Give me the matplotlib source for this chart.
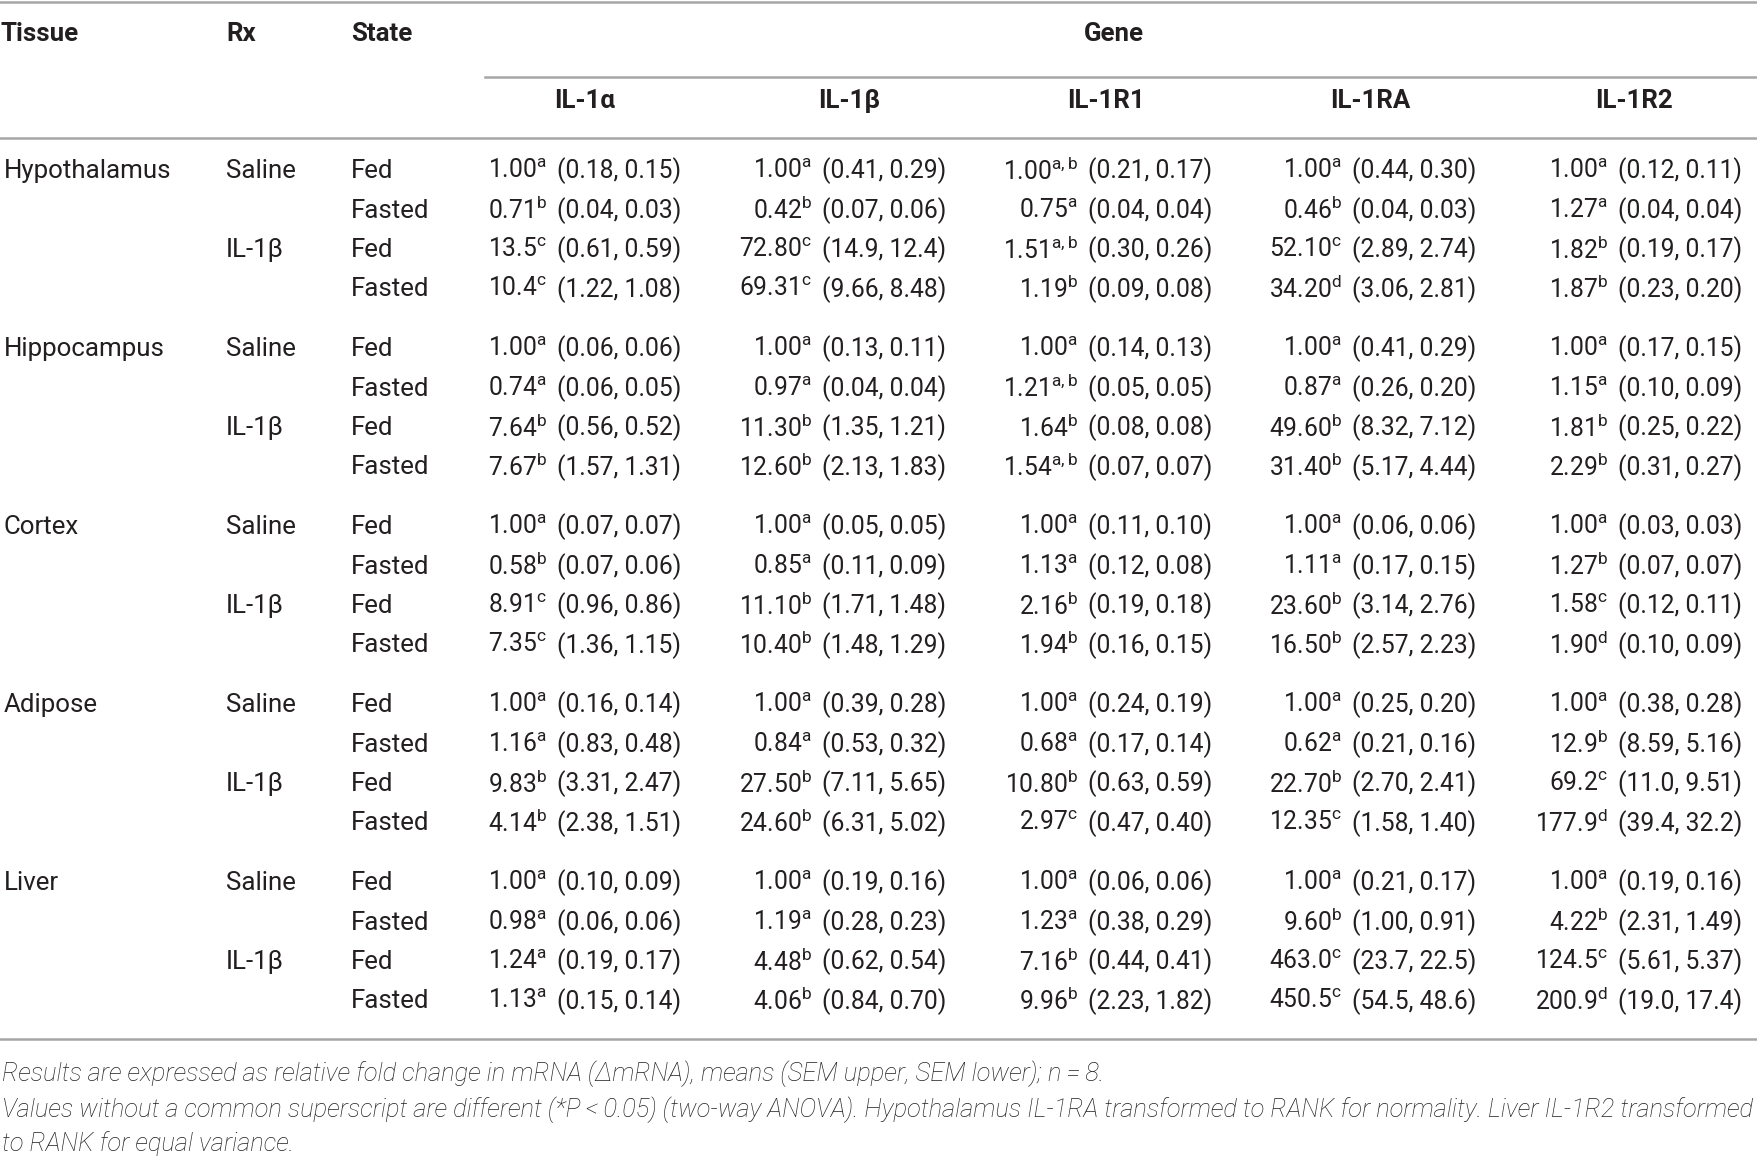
import matplotlib
matplotlib.use("Agg")
import matplotlib.pyplot as plt

plt.rcParams['font.family'] = ['Roboto', 'DejaVu Sans']

# table content
tissues = ['Hypothalamus', 'Hippocampus', 'Cortex', 'Adipose', 'Liver']
treatments = ['Saline', 'IL-1β']
states = ['Fed', 'Fasted']
genes = ['IL-1α', 'IL-1β', 'IL-1R1', 'IL-1RA', 'IL-1R2']

# one list per gene, 20 rows (tissue x Rx x state)
mean_il1a = ['1.00', '0.71', '13.5', '10.4', '1.00', '0.74', '7.64', '7.67',
             '1.00', '0.58', '8.91', '7.35', '1.00', '1.16', '9.83', '4.14',
             '1.00', '0.98', '1.24', '1.13']
sup_il1a = ['a', 'b', 'c', 'c', 'a', 'a', 'b', 'b', 'a', 'b', 'c', 'c',
            'a', 'a', 'b', 'b', 'a', 'a', 'a', 'a']
sem_il1a = ['0.18, 0.15', '0.04, 0.03', '0.61, 0.59', '1.22, 1.08',
            '0.06, 0.06', '0.06, 0.05', '0.56, 0.52', '1.57, 1.31',
            '0.07, 0.07', '0.07, 0.06', '0.96, 0.86', '1.36, 1.15',
            '0.16, 0.14', '0.83, 0.48', '3.31, 2.47', '2.38, 1.51',
            '0.10, 0.09', '0.06, 0.06', '0.19, 0.17', '0.15, 0.14']

mean_il1b = ['1.00', '0.42', '72.80', '69.31', '1.00', '0.97', '11.30', '12.60',
             '1.00', '0.85', '11.10', '10.40', '1.00', '0.84', '27.50', '24.60',
             '1.00', '1.19', '4.48', '4.06']
sup_il1b = ['a', 'b', 'c', 'c', 'a', 'a', 'b', 'b', 'a', 'a', 'b', 'b',
            'a', 'a', 'b', 'b', 'a', 'a', 'b', 'b']
sem_il1b = ['0.41, 0.29', '0.07, 0.06', '14.9, 12.4', '9.66, 8.48',
            '0.13, 0.11', '0.04, 0.04', '1.35, 1.21', '2.13, 1.83',
            '0.05, 0.05', '0.11, 0.09', '1.71, 1.48', '1.48, 1.29',
            '0.39, 0.28', '0.53, 0.32', '7.11, 5.65', '6.31, 5.02',
            '0.19, 0.16', '0.28, 0.23', '0.62, 0.54', '0.84, 0.70']

mean_il1r1 = ['1.00', '0.75', '1.51', '1.19', '1.00', '1.21', '1.64', '1.54',
              '1.00', '1.13', '2.16', '1.94', '1.00', '0.68', '10.80', '2.97',
              '1.00', '1.23', '7.16', '9.96']
sup_il1r1 = ['a,b', 'a', 'a,b', 'b', 'a', 'a,b', 'b', 'a,b', 'a', 'a', 'b', 'b',
             'a', 'a', 'b', 'c', 'a', 'a', 'b', 'b']
sem_il1r1 = ['0.21, 0.17', '0.04, 0.04', '0.30, 0.26', '0.09, 0.08',
             '0.14, 0.13', '0.05, 0.05', '0.08, 0.08', '0.07, 0.07',
             '0.11, 0.10', '0.12, 0.08', '0.19, 0.18', '0.16, 0.15',
             '0.24, 0.19', '0.17, 0.14', '0.63, 0.59', '0.47, 0.40',
             '0.06, 0.06', '0.38, 0.29', '0.44, 0.41', '2.23, 1.82']

mean_il1ra = ['1.00', '0.46', '52.10', '34.20', '1.00', '0.87', '49.60', '31.40',
              '1.00', '1.11', '23.60', '16.50', '1.00', '0.62', '22.70', '12.35',
              '1.00', '9.60', '463.0', '450.5']
sup_il1ra = ['a', 'b', 'c', 'd', 'a', 'a', 'b', 'b', 'a', 'a', 'b', 'b',
             'a', 'a', 'b', 'c', 'a', 'b', 'c', 'c']
sem_il1ra = ['0.44, 0.30', '0.04, 0.03', '2.89, 2.74', '3.06, 2.81',
             '0.41, 0.29', '0.26, 0.20', '8.32, 7.12', '5.17, 4.44',
             '0.06, 0.06', '0.17, 0.15', '3.14, 2.76', '2.57, 2.23',
             '0.25, 0.20', '0.21, 0.16', '2.70, 2.41', '1.58, 1.40',
             '0.21, 0.17', '1.00, 0.91', '23.7, 22.5', '54.5, 48.6']

mean_il1r2 = ['1.00', '1.27', '1.82', '1.87', '1.00', '1.15', '1.81', '2.29',
              '1.00', '1.27', '1.58', '1.90', '1.00', '12.9', '69.2', '177.9',
              '1.00', '4.22', '124.5', '200.9']
sup_il1r2 = ['a', 'a', 'b', 'b', 'a', 'a', 'b', 'b', 'a', 'b', 'c', 'd',
             'a', 'b', 'c', 'd', 'a', 'b', 'c', 'd']
sem_il1r2 = ['0.12, 0.11', '0.04, 0.04', '0.19, 0.17', '0.23, 0.20',
             '0.17, 0.15', '0.10, 0.09', '0.25, 0.22', '0.31, 0.27',
             '0.03, 0.03', '0.07, 0.07', '0.12, 0.11', '0.10, 0.09',
             '0.38, 0.28', '8.59, 5.16', '11.0, 9.51', '39.4, 32.2',
             '0.19, 0.16', '2.31, 1.49', '5.61, 5.37', '19.0, 17.4']

footnotes = [
    'Results are expressed as relative fold change in mRNA (ΔmRNA), means (SEM upper, SEM lower); n\u2009=\u20098.',
    'Values without a common superscript are different (*P\u2009<\u20090.05) (two-way ANOVA). Hypothalamus IL-1RA transformed to RANK for normality. Liver IL-1R2 transformed',
    'to RANK for equal variance.',
]

means = [mean_il1a, mean_il1b, mean_il1r1, mean_il1ra, mean_il1r2]
sups = [sup_il1a, sup_il1b, sup_il1r1, sup_il1ra, sup_il1r2]
sems = [sem_il1a, sem_il1b, sem_il1r1, sem_il1ra, sem_il1r2]

W, H = 1758, 1161
fig = plt.figure(figsize=(W / 100, H / 100), dpi=100)
ax = fig.add_axes([0, 0, 1, 1])
ax.set_xlim(0, W)
ax.set_ylim(H, 0)
ax.axis('off')

ink = '#231f20'
rule = '#a6a6a6'
fs = 18.6
fs_num = 17.7

# rules
ax.plot([0, W], [2, 2], color=rule, lw=1.8)
ax.plot([485, W], [77, 77], color=rule, lw=1.8)
ax.plot([0, W], [138, 138], color=rule, lw=1.8)
ax.plot([0, W], [1039, 1039], color=rule, lw=1.8)

# headers
hdr = dict(fontsize=fs, fontweight='bold', color=ink, va='center')
ax.text(1, 34, 'Tissue', ha='left', **hdr)
ax.text(226, 34, 'Rx', ha='left', **hdr)
ax.text(351, 34, 'State', ha='left', **hdr)
ax.text(1114, 34, 'Gene', ha='center', **hdr)
gene_x = [585, 849, 1106, 1370, 1634]
for gx, g in zip(gene_x, genes):
    ax.text(gx, 101, g, ha='center', **hdr)

# body
paren_x = [557, 822, 1088, 1352, 1618]
body = dict(fontsize=fs, color=ink, va='center')
num = dict(fontsize=fs_num, color=ink, va='center')
for t, tissue in enumerate(tissues):
    y0 = 171 + t * 178
    ax.text(4, y0, tissue, ha='left', **body)
    for r, rx in enumerate(treatments):
        ax.text(226, y0 + r * 2 * 39.5, rx, ha='left', **body)
        for s, st in enumerate(states):
            k = t * 4 + r * 2 + s
            y = y0 + (r * 2 + s) * 39.5
            ax.text(351, y, st, ha='left', **body)
            for c in range(5):
                ax.text(paren_x[c] - 10, y,
                        means[c][k] + r'$^{\mathregular{' + sups[c][k] + '}}$',
                        ha='right', **num)
                ax.text(paren_x[c], y, '(' + sems[c][k] + ')', ha='left', **num)

# notes
for i, note in enumerate(footnotes):
    ax.text(2, [1074, 1110, 1144][i], note, ha='left', va='center',
            fontsize=18.35, fontstyle='italic', fontweight='light', color=ink)

fig.savefig('out.png', dpi=100)
